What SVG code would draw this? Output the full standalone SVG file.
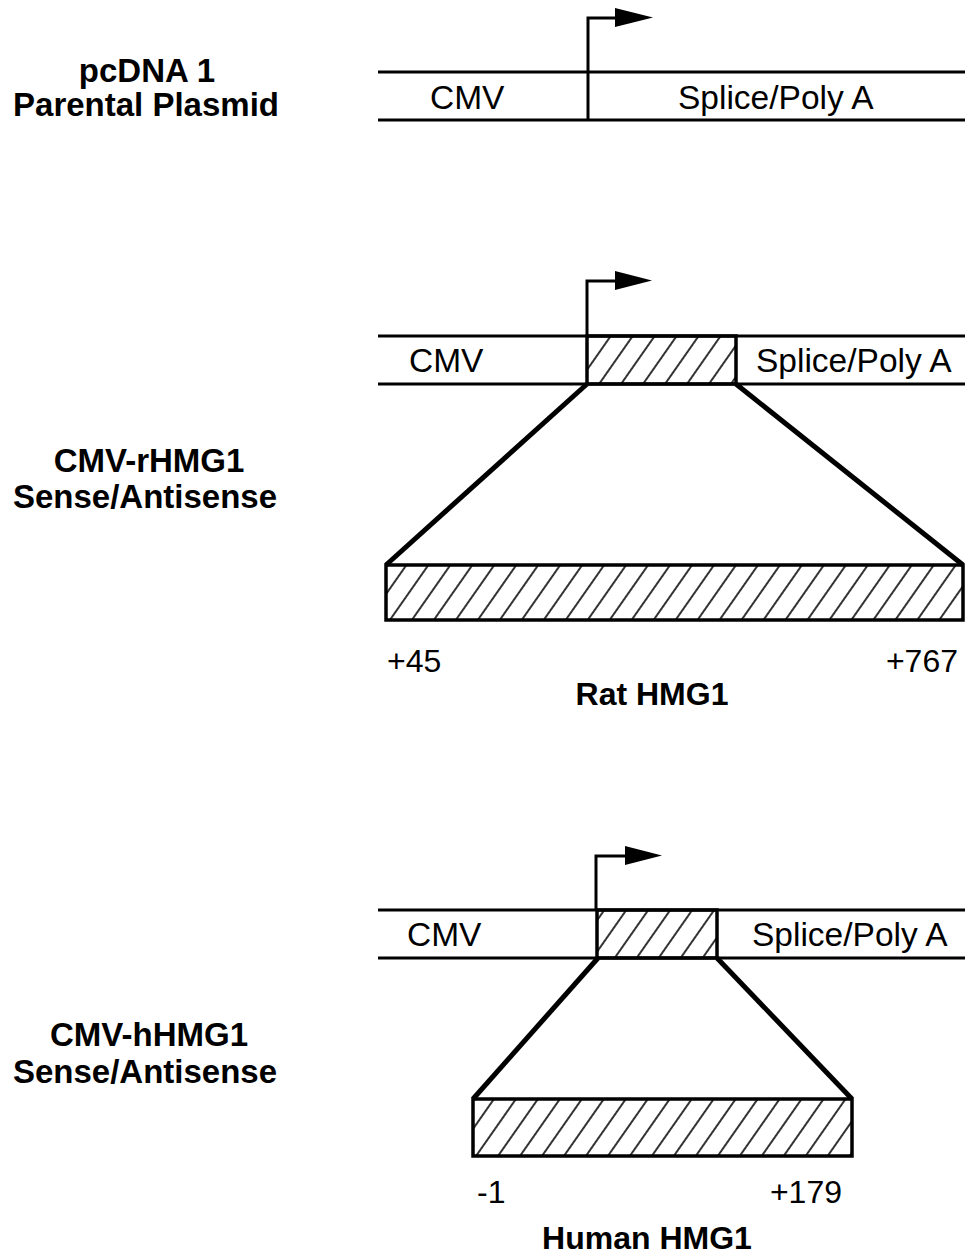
<svg xmlns="http://www.w3.org/2000/svg" width="965" height="1258" viewBox="0 0 965 1258">
<defs>
<pattern id="hatch" patternUnits="userSpaceOnUse" width="18" height="18" patternTransform="rotate(35)">
<line x1="9" y1="0" x2="9" y2="18" stroke="#000" stroke-width="1.6"/>
</pattern>
<style>
.ln{stroke:#000;stroke-width:3;fill:none}
.box{stroke:#000;stroke-width:3.5;fill:url(#hatch)}
.diag{stroke:#000;stroke-width:5;fill:none}
.ah{fill:#000}
.t{font-family:"Liberation Sans",Arial,sans-serif;font-size:33.5px;fill:#000}
.n{font-family:"Liberation Sans",Arial,sans-serif;font-size:32px;fill:#000}
.b{font-family:"Liberation Sans",Arial,sans-serif;font-size:32px;font-weight:bold;fill:#000}
.lb{font-family:"Liberation Sans",Arial,sans-serif;font-size:33px;font-weight:bold;fill:#000;text-anchor:middle}
</style>
</defs>
<rect width="965" height="1258" fill="#fff"/>

<g id="label-pcdna">
<text class="lb" x="147" y="82">pcDNA 1</text>
<text class="lb" x="146" y="116">Parental Plasmid</text>
</g>
<g id="label-rhmg1">
<text class="lb" x="149" y="472">CMV-rHMG1</text>
<text class="lb" x="145" y="508">Sense/Antisense</text>
</g>
<g id="label-hhmg1">
<text class="lb" x="149" y="1046">CMV-hHMG1</text>
<text class="lb" x="145" y="1083">Sense/Antisense</text>
</g>

<g id="plasmid1">
<line class="ln" x1="378" y1="72" x2="965" y2="72"/>
<line class="ln" x1="378" y1="120" x2="965" y2="120"/>
<text class="t" x="430" y="109">CMV</text>
<text class="t" x="678" y="109">Splice/Poly A</text>
</g>

<g id="plasmid2">
<line class="ln" x1="378" y1="336" x2="965" y2="336"/>
<line class="ln" x1="378" y1="384" x2="965" y2="384"/>
<rect class="box" x="587" y="336" width="149" height="48"/>
<text class="t" x="409" y="372">CMV</text>
<text class="t" x="756" y="372">Splice/Poly A</text>
</g>

<g id="rat-hmg1">
<rect class="box" x="386" y="565" width="577" height="55"/>
<text class="n" x="387" y="672">+45</text>
<text class="n" x="958" y="672" text-anchor="end">+767</text>
<text class="b" x="652" y="705" text-anchor="middle">Rat HMG1</text>
</g>

<g id="plasmid3">
<line class="ln" x1="378" y1="910" x2="965" y2="910"/>
<line class="ln" x1="378" y1="958" x2="965" y2="958"/>
<rect class="box" x="597" y="910" width="120" height="48"/>
<text class="t" x="407" y="946">CMV</text>
<text class="t" x="752" y="946">Splice/Poly A</text>
</g>

<g id="human-hmg1">
<rect class="box" x="473" y="1099" width="379" height="57"/>
<text class="n" x="477" y="1203">-1</text>
<text class="n" x="842" y="1203" text-anchor="end">+179</text>
<text class="b" x="647" y="1249" text-anchor="middle">Human HMG1</text>
</g>

<g id="connectors">
<polyline class="ln" points="588,120 588,18 617,18"/>
<polygon class="ah" points="615,8 653,17.5 615,27"/>
<polyline class="ln" points="587,336 587,281 617,281"/>
<polygon class="ah" points="615,271 652,280.5 615,290"/>
<polyline class="ln" points="596,910 596,856 626,856"/>
<polygon class="ah" points="625,846 662,855.5 625,865"/>
<line class="diag" x1="587" y1="384" x2="386" y2="565"/>
<line class="diag" x1="736" y1="384" x2="963" y2="565"/>
<line class="diag" x1="598" y1="958" x2="473" y2="1099"/>
<line class="diag" x1="717" y1="958" x2="852" y2="1099"/>
</g>
</svg>
